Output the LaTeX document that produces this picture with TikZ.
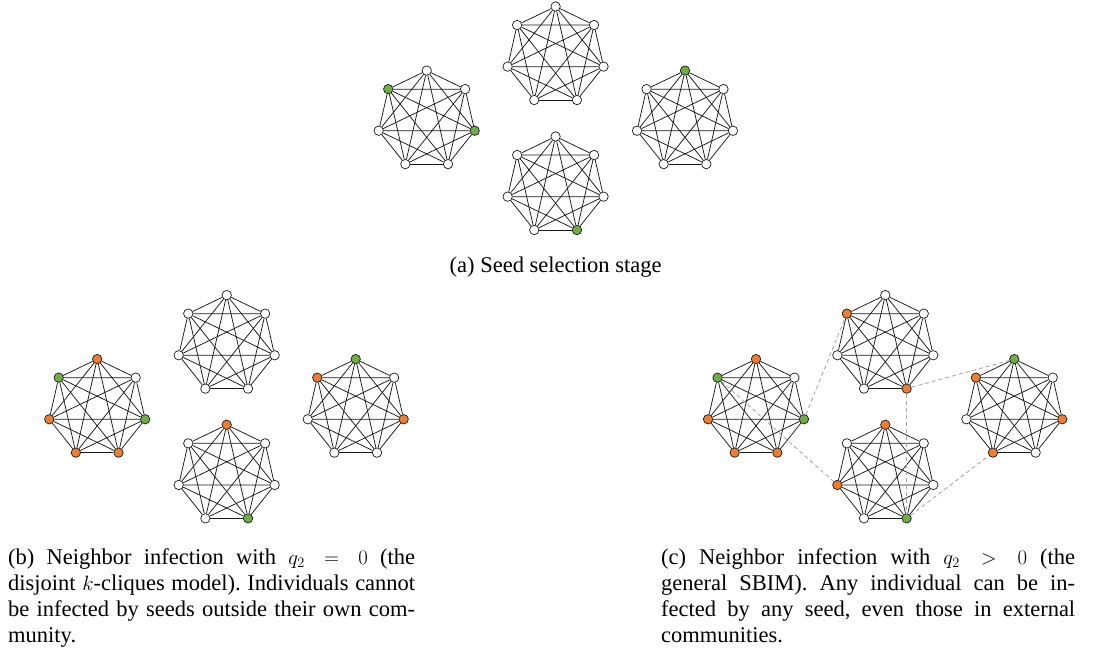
\documentclass[tikz,border=0pt]{standalone}
\usepackage{fontspec}
\setmainfont{Liberation Serif}
\usetikzlibrary{calc}
\definecolor{sd}{RGB}{112,173,71}
\definecolor{inf}{RGB}{237,125,49}
\definecolor{wh}{RGB}{255,255,255}
\newcommand\captfont{\fontsize{22.5}{26}\selectfont\frenchspacing\hyphenpenalty=10000 }
\tikzset{
  vtx/.style={circle, draw=black!90, line width=0.7pt, minimum size=9.4pt, inner sep=0pt},
  edge/.style={draw=black!90, line width=0.75pt},
  cross/.style={draw=black!35, line width=0.85pt, dash pattern=on 4pt off 3pt},
  capt/.style={font=\captfont, inner sep=0pt},
}
\newcommand\clique[4]{%
  \foreach \clr [count=\i from 0] in {#4}{
    \node[vtx, fill=\clr] (#1\i) at ($(#2,#3)+({-90-\i*360/7}:49.2)$) {};
  }
  \foreach \i in {0,...,5}{
    \pgfmathtruncatemacro\kk{\i+1}
    \foreach \j in {\kk,...,6}{\draw[edge] (#1\i) -- (#1\j);}
  }
}
\begin{document}
\begin{tikzpicture}[x=1pt,y=-1pt]
\useasboundingbox (0,0) rectangle (1111,651);
% panel (a)
\clique{aL}{426.7}{119.8}{wh,sd,wh,wh,wh,sd,wh}
\clique{aT}{555.6}{55.7}{wh,wh,wh,wh,wh,wh,wh}
\clique{aB}{555.6}{185.7}{wh,wh,wh,wh,sd,wh,wh}
\clique{aR}{685.0}{119.8}{sd,wh,wh,wh,wh,wh,wh}
% panel (b)
\clique{bL}{97.2}{408.3}{inf,sd,inf,inf,inf,sd,wh}
\clique{bT}{226.7}{344.3}{wh,wh,wh,wh,wh,wh,wh}
\clique{bB}{226.7}{474.0}{inf,wh,wh,wh,sd,wh,wh}
\clique{bR}{355.7}{408.3}{sd,inf,wh,wh,wh,inf,wh}
% panel (c)
\clique{cL}{756.0}{408.3}{inf,sd,inf,inf,inf,sd,wh}
\clique{cT}{885.3}{344.3}{wh,inf,wh,wh,inf,wh,wh}
\clique{cB}{885.3}{474.0}{inf,wh,inf,wh,sd,wh,wh}
\clique{cR}{1014.3}{408.3}{sd,inf,wh,inf,wh,inf,wh}
\draw[cross] (cL5) -- (cT1);
\draw[cross] (cL1) -- (cB2);
\draw[cross] (cT4) -- (cR0);
\draw[cross] (cT4) -- (cB4);
\draw[cross] (cB4) -- (cR3);
% captions
\node[capt, anchor=base] (ca) at (555.6,272) {(a) Seed selection stage};
\node[capt, anchor=north west, text width=407pt, align=justify] (cb) at (8,548)
  {(b) Neighbor infection with $q_2 = 0$ (the\linebreak disjoint $k$-cliques model). Individuals cannot\linebreak be infected by seeds outside their own com-\linebreak munity.};
\node[capt, anchor=north west, text width=414pt, align=justify] (cc) at (661,548)
  {(c) Neighbor infection with $q_2 > 0$ (the\linebreak general SBIM). Any individual can be in-\linebreak fected by any seed, even those in external\linebreak communities.};
\end{tikzpicture}
\end{document}
